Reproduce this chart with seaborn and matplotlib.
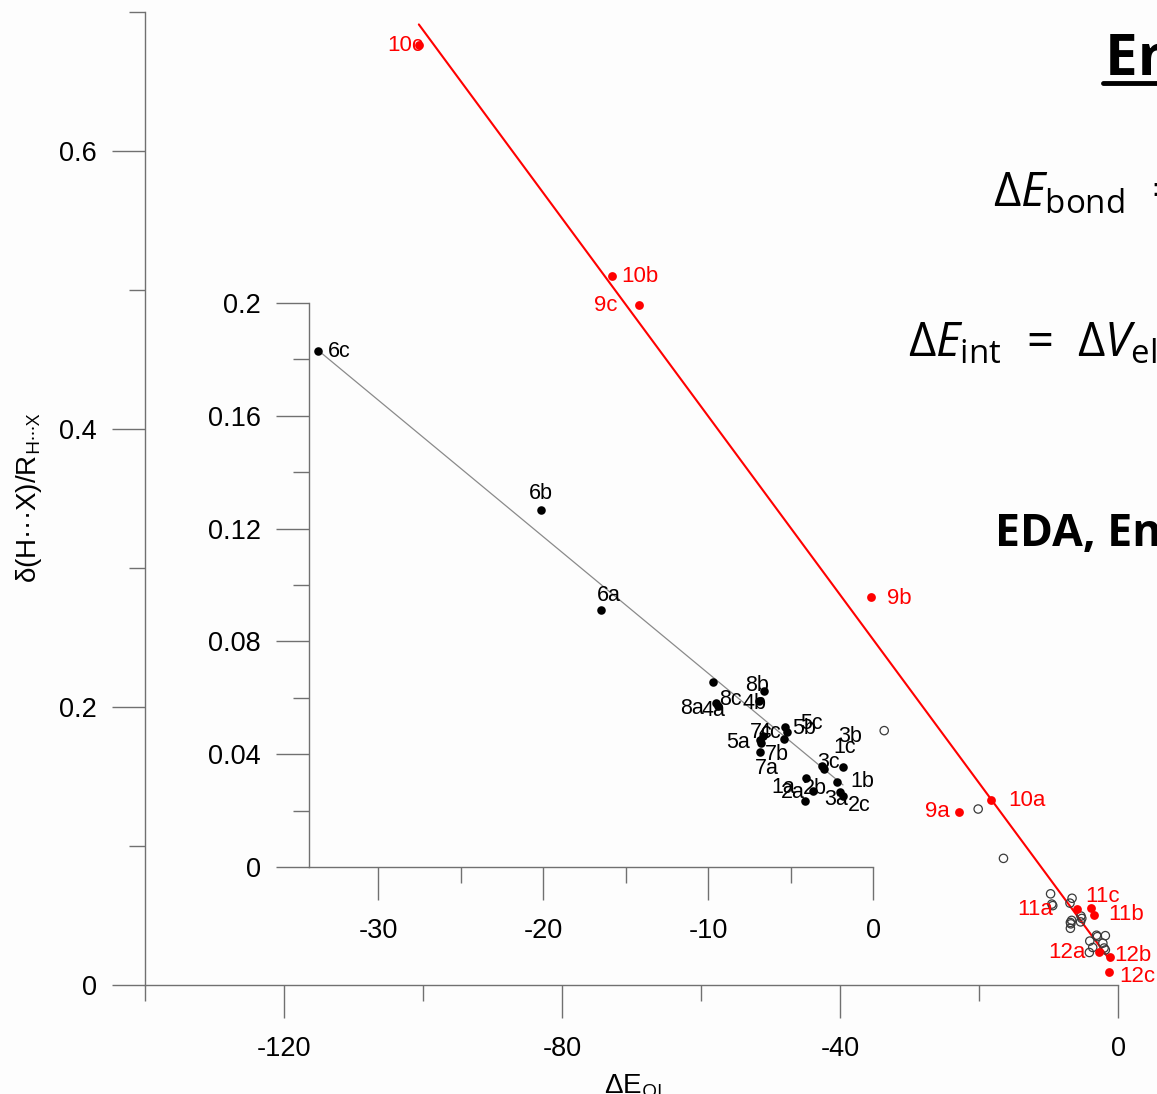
import numpy as np
import matplotlib
matplotlib.use("Agg")
import matplotlib.pyplot as plt
from matplotlib.lines import Line2D
from matplotlib.ticker import MultipleLocator, FuncFormatter
import seaborn as sns

# ---------------------------------------------------------------- data
# Red series (systems 9-12): orbital interaction energy vs. relative elongation
red_labels = ["10c", "10b", "9c", "9b", "10a", "9a", "11a", "11c", "11b", "12a", "12b", "12c"]
red_de_oi = [-100.6, -72.8, -68.9, -35.5, -18.3, -22.9, -5.9, -3.9, -3.45, -2.7, -1.15, -1.3]
red_delta = [0.676, 0.510, 0.489, 0.279, 0.133, 0.1245, 0.0547, 0.0554, 0.0504, 0.0237, 0.020, 0.0094]

# Black series (systems 1-8): shown in the inset and as open circles in the main panel
blk_labels = ["6c", "6b", "6a", "8c", "8a", "4a", "8b", "4b", "5c", "5b", "4c", "5a",
              "7c", "7b", "7a", "3c", "1c", "3b", "1a", "1b", "2b", "2a", "3a", "2c"]
blk_de_oi = [-33.64, -20.12, -16.48, -9.70, -9.52, -9.39, -6.61, -6.91, -5.33, -5.21, -5.39, -6.85,
             -6.67, -6.79, -6.85, -3.09, -2.97, -1.82, -4.06, -2.18, -3.64, -4.12, -2.00, -1.82]
blk_delta = [0.1830, 0.1266, 0.0911, 0.0656, 0.0582, 0.0571, 0.0624, 0.0589, 0.0496, 0.0479, 0.0454, 0.0450,
             0.0465, 0.0440, 0.0408, 0.0358, 0.0348, 0.0355, 0.0316, 0.0301, 0.0270, 0.0234, 0.0266, 0.0252]

# Linear fits: (slope, intercept)
red_fit = (-0.00677, 0.010)
blk_fit = (-0.004842, 0.0203)

# Label placement (offset in pixels from the marker)
red_offsets = {"10c": (-14, 0), "10b": (28, 0), "9c": (-33, 0), "9b": (28, -1),
               "10a": (36, 0), "9a": (-21, 0), "11a": (-42, -1), "11c": (12, 11),
               "11b": (32, 0), "12a": (-32, 0), "12b": (23, 2), "12c": (28, -5)}
blk_offsets = {"6c": (21, -1), "6b": (0, 16), "6a": (8, 15), "8c": (17, -17),
               "8a": (-24, -6), "4a": (-5, -5), "8b": (-7, 6), "4b": (-5, -3),
               "5c": (26, 4), "5b": (17, 3), "4c": (-14, 6), "5a": (-22, -2),
               "7c": (-2, 3), "7b": (16, -12), "7a": (7, -17), "3c": (7, 4),
               "1c": (21, 21), "3b": (7, 30), "1a": (-23, -10), "1b": (25, 1),
               "2b": (2, 2), "2a": (-12, 9), "3a": (-4, -8), "2c": (16, -10)}

# ---------------------------------------------------------------- style
sns.set_theme(style="ticks")
plt.rcParams["font.family"] = ["Liberation Sans", "DejaVu Sans"]
plt.rcParams["mathtext.fontset"] = "custom"
plt.rcParams["mathtext.rm"] = "Open Sans"
plt.rcParams["mathtext.it"] = "Open Sans:italic"
plt.rcParams["mathtext.bf"] = "Open Sans:bold"
plt.rcParams["axes.unicode_minus"] = False
plt.rcParams["text.color"] = "black"
plt.rcParams["axes.labelcolor"] = "black"

AX_GRAY = "#707070"
W, H = 1157, 1094

fig = plt.figure(figsize=(W / 100, H / 100), dpi=100, facecolor="#fdfdfd")


def style_axis(a, xmaj, xmin, ymaj, ymin):
    a.patch.set_alpha(0)
    for s in ("top", "right"):
        a.spines[s].set_visible(False)
    for s in ("left", "bottom"):
        a.spines[s].set_color(AX_GRAY)
        a.spines[s].set_linewidth(1.0)
    a.xaxis.set_major_locator(MultipleLocator(xmaj))
    a.xaxis.set_minor_locator(MultipleLocator(xmin))
    a.yaxis.set_major_locator(MultipleLocator(ymaj))
    a.yaxis.set_minor_locator(MultipleLocator(ymin))
    fmt = FuncFormatter(lambda v, p: "{:g}".format(round(v, 6)))
    a.xaxis.set_major_formatter(fmt)
    a.yaxis.set_major_formatter(fmt)
    a.tick_params(which="major", direction="out", length=23.8, width=1.0,
                  color=AX_GRAY, labelsize=19.5, labelcolor="black")
    a.tick_params(which="minor", direction="out", length=11.5, width=1.0, color=AX_GRAY)
    a.tick_params(axis="x", which="major", pad=13)
    a.tick_params(axis="y", which="major", pad=11)
    a.set_xlabel("")
    a.set_ylabel("")


# ---------------------------------------------------------------- main panel
ax = fig.add_axes([145 / W, 1 - 985 / H, (1118 - 145) / W, (985 - 12) / H])
ax.set_xlim(-140, 0)
ax.set_ylim(0, 0.7)

rx = np.array([min(red_de_oi), max(red_de_oi)])
sns.lineplot(x=rx, y=red_fit[1] + red_fit[0] * rx, color="red", linewidth=1.5, ax=ax)

sns.scatterplot(x=blk_de_oi, y=blk_delta, ax=ax, s=36, marker="o",
                facecolor="none", edgecolor="#3a3a3a", linewidth=0.9, zorder=3)
sns.scatterplot(x=red_de_oi, y=red_delta, ax=ax, s=40, color="red",
                edgecolor="red", linewidth=0, zorder=4)

for lab, x, y in zip(red_labels, red_de_oi, red_delta):
    ax.annotate(lab, (x, y), xytext=red_offsets[lab], textcoords="offset pixels",
                ha="center", va="center", fontsize=16, color="red", zorder=5)

style_axis(ax, 40, 20, 0.2, 0.1)

# ---------------------------------------------------------------- inset
axi = fig.add_axes([309 / W, 1 - 867 / H, (873 - 309) / W, (867 - 303) / H])
axi.set_xlim(-34.2, 0)
axi.set_ylim(0, 0.2)

bx = np.array([min(blk_de_oi), max(blk_de_oi)])
sns.lineplot(x=bx, y=blk_fit[1] + blk_fit[0] * bx, color="#8a8a8a", linewidth=0.9, ax=axi)
sns.scatterplot(x=blk_de_oi, y=blk_delta, ax=axi, s=38, color="black",
                edgecolor="black", linewidth=0, zorder=4)

for lab, x, y in zip(blk_labels, blk_de_oi, blk_delta):
    axi.annotate(lab, (x, y), xytext=blk_offsets[lab], textcoords="offset pixels",
                 ha="center", va="center", fontsize=15.5, color="black", zorder=5)

style_axis(axi, 10, 5, 0.04, 0.02)

# ---------------------------------------------------------------- axis titles
fig.text(29 / W, 1 - 497 / H, "δ(H···X)/R$_{\\mathrm{H···X}}$", rotation=90,
         ha="center", va="center", fontsize=20)
fig.text(604 / W, 1 - 1093 / H, "ΔE$_{\\mathrm{OI}}$", ha="left", va="baseline", fontsize=20)

# ---------------------------------------------------------------- side text
fig.text(1105 / W, 1 - 75 / H, "Energy Decomposition Analysis", family="Open Sans",
         fontweight="bold", fontsize=42, ha="left", va="baseline")
fig.add_artist(Line2D([1103 / W, 1.0], [1 - 82.5 / H] * 2, transform=fig.transFigure,
                      color="black", linewidth=3.5))
fig.text(993 / W, 1 - 207 / H,
         r"$\Delta E_{\mathrm{bond}}$  =  $\Delta E_{\mathrm{prep}}$ + $\Delta E_{\mathrm{int}}$",
         family="Open Sans", fontsize=34, ha="left", va="baseline")
fig.text(908 / W, 1 - 356 / H,
         r"$\Delta E_{\mathrm{int}}$  =  $\Delta V_{\mathrm{elstat}}$ + $\Delta E_{\mathrm{Pauli}}$",
         family="Open Sans", fontsize=34, ha="left", va="baseline")
fig.text(995 / W, 1 - 546 / H, "EDA, Energy Decomposition Analysis", family="Open Sans",
         fontweight="bold", fontsize=32, ha="left", va="baseline")

fig.savefig("out.png", dpi=100, facecolor=fig.get_facecolor())
